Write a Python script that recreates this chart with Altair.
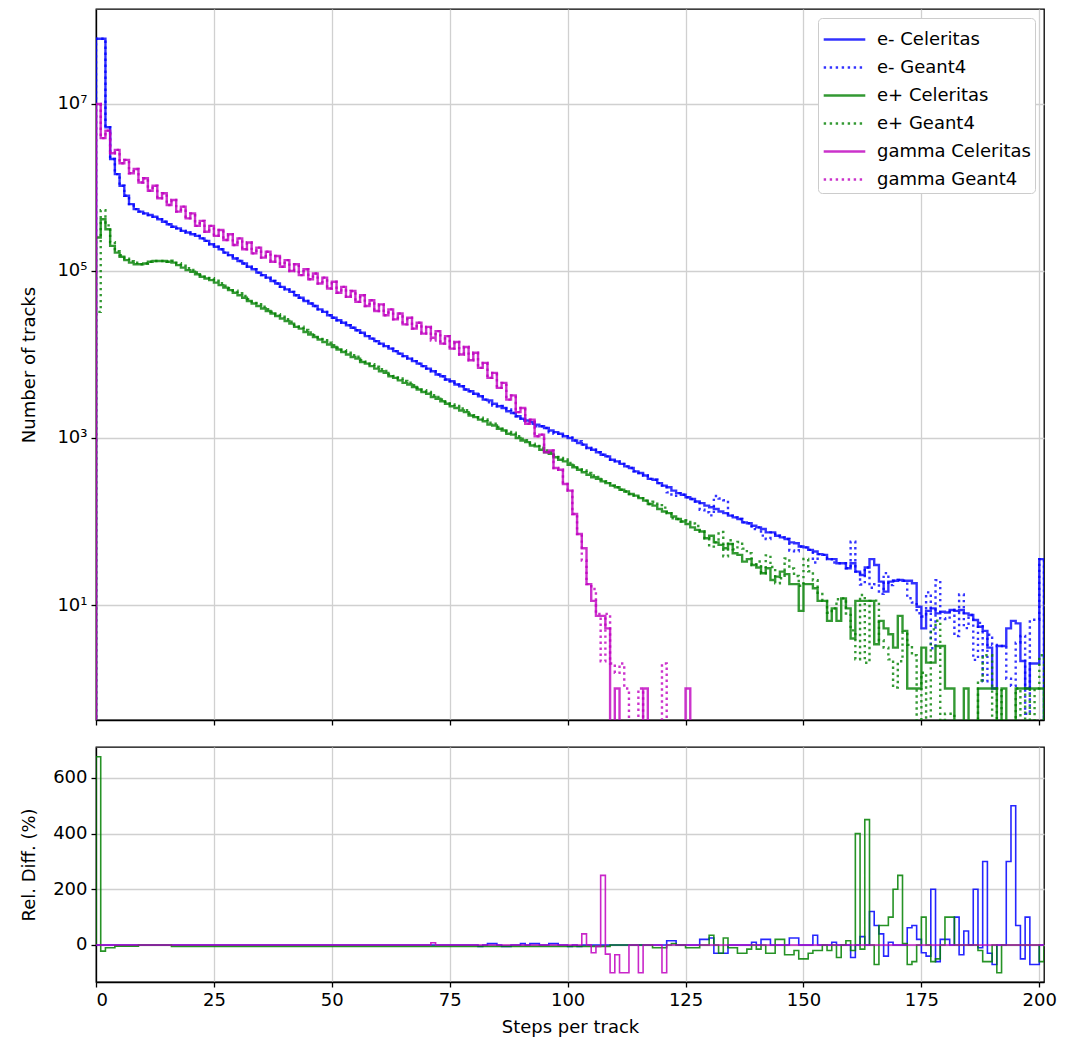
import altair as alt
import pandas as pd

# ---------------------------------------------------------------- data
N_BINS = 201                      # bins [k, k+1) for k = 0..200
X_TICKS = [0, 25, 50, 75, 100, 125, 150, 175, 200]
Y_TICKS_TOP = [10, 1000, 100000, 10000000]
Y_TICKS_BOTTOM = [0, 200, 400, 600]

PARTICLES = ["e-", "e+", "gamma"]
SOURCES = ["Celeritas", "Geant4"]
COLORS = {"e-": "#0000ff", "e+": "#008000", "gamma": "#bf00bf"}

# log10(number of tracks) per bin, Celeritas (None = empty bin)
E_MINUS_CELERITAS = [
    7.78, 7.78, 6.72, 6.34, 6.16, 6.02, 5.90, 5.80, 5.74, 5.71,
    5.69, 5.67, 5.65, 5.62, 5.59, 5.56, 5.53, 5.51, 5.48, 5.46,
    5.44, 5.42, 5.39, 5.36, 5.32, 5.29, 5.26, 5.22, 5.19, 5.15,
    5.12, 5.09, 5.05, 5.02, 4.98, 4.95, 4.92, 4.88, 4.85, 4.81,
    4.78, 4.75, 4.71, 4.68, 4.64, 4.61, 4.58, 4.54, 4.51, 4.47,
    4.44, 4.41, 4.38, 4.35, 4.32, 4.29, 4.26, 4.22, 4.19, 4.16,
    4.13, 4.10, 4.07, 4.04, 4.01, 3.98, 3.95, 3.92, 3.89, 3.86,
    3.83, 3.80, 3.76, 3.74, 3.70, 3.68, 3.64, 3.62, 3.58, 3.56,
    3.53, 3.50, 3.46, 3.45, 3.41, 3.38, 3.36, 3.32, 3.30, 3.26,
    3.23, 3.21, 3.19, 3.16, 3.14, 3.12, 3.09, 3.07, 3.05, 3.02,
    3.00, 2.97, 2.94, 2.92, 2.88, 2.86, 2.83, 2.80, 2.78, 2.74,
    2.72, 2.69, 2.66, 2.64, 2.60, 2.58, 2.55, 2.51, 2.50, 2.46,
    2.43, 2.41, 2.37, 2.34, 2.32, 2.29, 2.27, 2.24, 2.22, 2.19,
    2.17, 2.15, 2.12, 2.10, 2.07, 2.05, 2.03, 1.99, 1.98, 1.95,
    1.93, 1.91, 1.87, 1.87, 1.83, 1.81, 1.79, 1.75, 1.74, 1.70,
    1.69, 1.66, 1.64, 1.61, 1.60, 1.55, 1.55, 1.50, 1.50, 1.44,
    1.50, 1.40, 1.36, 1.45, 1.55, 1.48, 1.28, 1.16, 1.28, 1.29,
    1.30, 1.29, 1.29, 1.26, 0.98, 0.72, 0.93, 0.96, 0.90, 0.92,
    0.91, 0.94, 0.93, 0.94, 0.90, 0.88, 0.82, 0.74, 0.69, 0.49,
    0.00, 0.51, 0.51, 0.72, 0.81, 0.78, 0.33, 0.00, 0.30, 0.30,
    1.55,
]
E_PLUS_CELERITAS = [
    5.40, 5.62, 5.50, 5.30, 5.22, 5.17, 5.13, 5.10, 5.08, 5.08,
    5.09, 5.11, 5.12, 5.12, 5.12, 5.11, 5.10, 5.07, 5.04, 5.01,
    4.99, 4.96, 4.93, 4.91, 4.89, 4.86, 4.83, 4.80, 4.77, 4.74,
    4.71, 4.68, 4.64, 4.61, 4.58, 4.55, 4.52, 4.49, 4.46, 4.43,
    4.40, 4.37, 4.33, 4.31, 4.27, 4.24, 4.21, 4.18, 4.15, 4.12,
    4.09, 4.06, 4.03, 4.00, 3.97, 3.95, 3.91, 3.89, 3.86, 3.83,
    3.80, 3.78, 3.74, 3.72, 3.69, 3.66, 3.64, 3.61, 3.58, 3.55,
    3.53, 3.49, 3.47, 3.44, 3.41, 3.38, 3.36, 3.33, 3.31, 3.27,
    3.25, 3.22, 3.20, 3.16, 3.15, 3.11, 3.09, 3.05, 3.04, 3.00,
    2.97, 2.95, 2.91, 2.90, 2.86, 2.83, 2.81, 2.77, 2.74, 2.72,
    2.68, 2.65, 2.62, 2.59, 2.56, 2.53, 2.51, 2.48, 2.46, 2.43,
    2.41, 2.38, 2.36, 2.33, 2.31, 2.28, 2.25, 2.21, 2.19, 2.15,
    2.12, 2.10, 2.06, 2.03, 2.00, 1.97, 1.93, 1.90, 1.88, 1.80,
    1.83, 1.75, 1.72, 1.68, 1.73, 1.62, 1.60, 1.52, 1.55, 1.48,
    1.45, 1.38, 1.44, 1.30, 1.34, 1.40, 1.37, 1.25, 1.25, 0.93,
    1.25, 1.25, 1.20, 1.05, 1.05, 0.81, 0.96, 0.81, 1.08, 0.96,
    0.60, 1.05, 1.05, 1.05, 1.05, 0.53, 0.81, 0.72, 0.65, 0.49,
    0.87, 0.69, 0.00, 0.00, 0.00, 0.49, 0.31, 0.31, 0.51, 0.51,
    0.00, 0.00, None, None, 0.00, None, None, 0.00, 0.00, 0.00,
    0.00, None, 0.00, None, None, 0.00, 0.00, 0.00, 0.00, 0.00,
    0.00,
]
GAMMA_CELERITAS = [
    7.00, 6.59, 6.68, 6.41, 6.45, 6.29, 6.33, 6.17, 6.22, 6.06,
    6.11, 5.96, 6.02, 5.87, 5.93, 5.79, 5.85, 5.71, 5.77, 5.63,
    5.69, 5.54, 5.60, 5.47, 5.54, 5.42, 5.49, 5.37, 5.44, 5.31,
    5.39, 5.26, 5.34, 5.21, 5.28, 5.16, 5.23, 5.11, 5.18, 5.05,
    5.13, 5.00, 5.08, 4.95, 5.02, 4.90, 4.97, 4.85, 4.92, 4.79,
    4.87, 4.74, 4.81, 4.69, 4.76, 4.63, 4.71, 4.58, 4.65, 4.52,
    4.60, 4.47, 4.54, 4.42, 4.49, 4.36, 4.44, 4.31, 4.38, 4.25,
    4.33, 4.20, 4.28, 4.13, 4.22, 4.07, 4.15, 4.00, 4.09, 3.93,
    4.02, 3.84, 3.90, 3.72, 3.78, 3.60, 3.66, 3.46, 3.51, 3.31,
    3.36, 3.17, 3.22, 3.02, 3.04, 2.83, 2.85, 2.64, 2.62, 2.45,
    2.37, 2.09, 1.85, 1.68, 1.25, 1.05, 0.87, 0.87, 0.72, None,
    0.00, None, None, None, None, None, 0.00, None, None, None,
    None, None, None, None, None, 0.00, None, None, None, None,
] + [None] * 71

# Relative difference (%) Celeritas vs Geant4
RD_E_MINUS = {
    81: -5, 83: 5, 84: 5, 86: -5, 87: -5, 90: 5, 92: 5, 93: 5, 96: 5, 97: 5,
    100: -5, 102: -5, 121: 15, 122: 15, 128: 20, 129: 20, 130: 25,
    131: -30, 132: -30, 133: -30, 139: 10, 141: 20, 142: 20, 147: 25,
    148: 25, 152: 35, 156: 10, 160: -45, 162: 30, 164: 120, 165: 70,
    166: 40, 167: -40, 168: 10, 172: 62, 173: 70, 174: 20, 175: -28,
    176: -40, 177: 200, 178: -60, 179: 20, 180: 20, 182: 100, 183: -35,
    184: 50, 186: 200, 187: -10, 188: 300, 189: -30, 190: -70, 193: 300,
    194: 500, 195: 70, 196: -50, 197: 100, 198: -70, 199: -70,
}
RD_E_PLUS = {
    1: -22, 2: -10, 3: -10, 118: -10, 119: -10, 120: -10, 122: 5,
    125: -10, 126: -10, 127: -10, 130: 35, 132: -30, 133: 25, 134: -10,
    135: -10, 136: -30, 137: -30, 138: -15, 140: -15, 142: -30, 143: -30,
    144: 20, 145: 20, 146: -35, 147: -35, 148: -20, 149: -50, 150: -50,
    151: -30, 152: -20, 153: -20, 155: -20, 157: -45, 159: 15, 160: -20,
    161: 400, 162: -15, 163: 450, 165: -70, 166: 70, 167: 70, 168: 100,
    169: 200, 170: 250, 171: 5, 172: -70, 173: -60, 175: 100, 177: -60,
    178: -50, 180: 100, 181: 100, 187: -20, 188: -60, 189: -60, 200: -60,
}
RD_E_PLUS_RUNS = [(4, 8, -4), (16, 108, -5)]   # flat stretches (first, last, %)
RD_GAMMA = {71: 8, 103: 40, 105: -28, 106: -5, 107: 250, 108: -33, 110: -35}

# Geant4 bins (log10 counts)
G4_READ = {
    "e-": {},
    "e+": {0: 4.51, 191: 0.00},
    "gamma": {109: 0.30, 111: 0.30, 112: 0.00, 115: 0.00, 120: 0.30},
}
# bins where Geant4 is empty but Celeritas is not
G4_EMPTY = {
    "e-": [],
    "e+": [174, 176, 179, 184, 190, 192, 196, 198],
    "gamma": [116, 125],
}

# ---------------------------------------------------------------- tables
CELERITAS = {"e-": E_MINUS_CELERITAS, "e+": E_PLUS_CELERITAS, "gamma": GAMMA_CELERITAS}
RD_POINTS = {"e-": RD_E_MINUS, "e+": RD_E_PLUS, "gamma": RD_GAMMA}
RD_RUNS = {"e-": [], "e+": RD_E_PLUS_RUNS, "gamma": []}

FLOOR = 0.01  # stands for an empty bin on the log axis (below the visible range)

top_rows, bot_rows = [], []


def add_steps(rows, key, name, values, floor, ycol):
    pts = [(0, floor)] + [(k, v) for k, v in enumerate(values)]
    pts += [(N_BINS, values[-1]), (N_BINS, floor)]
    for i, (x, y) in enumerate(pts):
        if ycol == "y" and y <= 0:
            y = floor
        rows.append({key: name, "x": x, ycol: y, "idx": i})


for p in PARTICLES:
    logs = CELERITAS[p]
    assert len(logs) == N_BINS
    cel = [0.0 if v is None else 10 ** v for v in logs]
    rd_map = dict(RD_POINTS[p])
    for a, b, v in RD_RUNS[p]:
        for k in range(a, b + 1):
            rd_map.setdefault(k, v)
    g4 = []
    for k in range(N_BINS):
        if k in G4_READ[p]:
            g4.append(10 ** G4_READ[p][k])
        elif k in G4_EMPTY[p]:
            g4.append(0.0)
        else:
            g4.append(cel[k] / (1 + rd_map.get(k, 0) / 100.0))
    rd = [(cel[k] - g4[k]) / g4[k] * 100.0 if g4[k] > 0 else 0.0 for k in range(N_BINS)]
    add_steps(top_rows, "series", f"{p} Celeritas", cel, FLOOR, "y")
    add_steps(top_rows, "series", f"{p} Geant4", g4, FLOOR, "y")
    add_steps(bot_rows, "particle", p, rd, 0.0, "rd")

top_df = pd.DataFrame(top_rows)
bot_df = pd.DataFrame(bot_rows)

LABELS = [f"{p} {s}" for p in PARTICLES for s in SOURCES]
LABEL_COLORS = [COLORS[p] for p in PARTICLES for _ in SOURCES]
DASHES = [[1, 0], [2.4, 3.6]] * 3

FONT = "DejaVu Sans"
FS = 18

x_scale = alt.Scale(domain=[0, 201], nice=False, zero=False)

legend = alt.Legend(
    title=None, orient="top-right", offset=9, fillColor="white",
    strokeColor="#cccccc", cornerRadius=4, padding=4,
    labelFont=FONT, labelFontSize=FS, labelColor="black", labelLimit=400,
    labelExpr="datum.label + '\u2003\u2002'",
    labelOffset=15, symbolOffset=5, symbolType="M-1.3,0H1.3", symbolSize=1024,
    symbolFillColor="transparent",
    symbolStrokeWidth=2.4, symbolOpacity=0.8, rowPadding=1,
)

top_base = alt.Chart(top_df).mark_line(
    interpolate="step-after", clip=True, strokeWidth=2.4, strokeOpacity=0.8
).encode(
    x=alt.X("x:Q", scale=x_scale,
            axis=alt.Axis(values=X_TICKS, labels=False, title=None, grid=True)),
    y=alt.Y("y:Q",
            scale=alt.Scale(type="log", domain=[0.42, 1.37e8], nice=False),
            axis=alt.Axis(values=Y_TICKS_TOP, title="Number of tracks", grid=True,
                          titleX=-67, titleBaseline="middle",
                          labelExpr="datum.value < 100 ? '10¹' : datum.value < 10000 ? '10³' : datum.value < 1000000 ? '10⁵' : '10⁷'")),
    color=alt.Color("series:N", scale=alt.Scale(domain=LABELS, range=LABEL_COLORS), legend=legend),
    strokeDash=alt.StrokeDash("series:N", scale=alt.Scale(domain=LABELS, range=DASHES), legend=legend),
    order=alt.Order("idx:Q"),
)
top = alt.layer(
    *[top_base.transform_filter(alt.datum.series == s) for s in LABELS]
).properties(width=948, height=711)

bot_base = alt.Chart(bot_df).mark_line(
    interpolate="step-after", clip=True, strokeWidth=1.6, strokeOpacity=0.85
).encode(
    x=alt.X("x:Q", scale=x_scale,
            axis=alt.Axis(values=X_TICKS, title="Steps per track", grid=True)),
    y=alt.Y("rd:Q", scale=alt.Scale(domain=[-133, 711], nice=False, zero=False),
            axis=alt.Axis(values=Y_TICKS_BOTTOM, title="Rel. Diff. (%)", grid=True,
                          titleX=-67, titleBaseline="middle")),
    color=alt.Color("particle:N",
                    scale=alt.Scale(domain=PARTICLES, range=[COLORS[p] for p in PARTICLES]),
                    legend=None),
    order=alt.Order("idx:Q"),
)
bottom = alt.layer(
    *[bot_base.transform_filter(alt.datum.particle == p) for p in PARTICLES]
).properties(width=948, height=235)

chart = alt.vconcat(top, bottom, spacing=19).resolve_scale(
    color="independent", strokeDash="independent"
).resolve_legend(
    color="independent", strokeDash="independent"
).properties(
    padding={"left": 19, "top": 8, "right": 18, "bottom": 0}
).configure_view(
    stroke="black", strokeWidth=1.3
).configure_axis(
    labelFont=FONT, labelFontSize=FS, labelColor="black",
    titleFont=FONT, titleFontSize=FS, titleFontWeight="normal", titleColor="black",
    domainColor="black", domainWidth=1.3, tickColor="black", tickWidth=1.3,
    tickSize=5, labelPadding=4, gridColor="#d0d0d0", gridWidth=1.3,
).configure_axisX(titlePadding=9)

chart.save("out.html", embed_options={"renderer": "svg", "actions": False})
